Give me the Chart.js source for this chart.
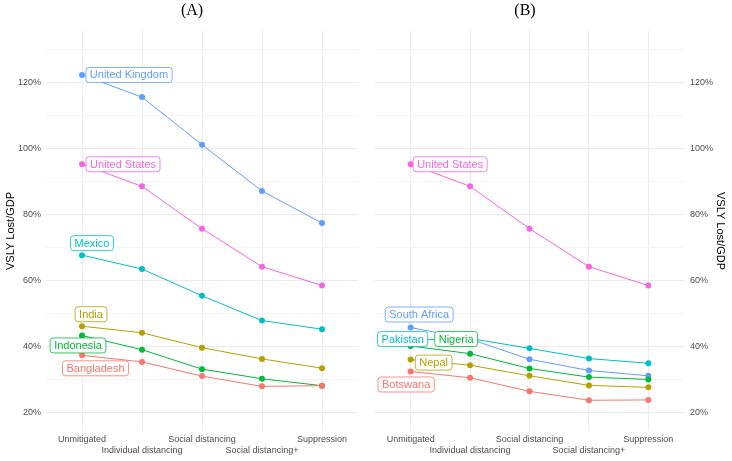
<!DOCTYPE html>
<html>
<head>
<meta charset="utf-8">
<script src="https://cdn.jsdelivr.net/npm/chart.js@4/dist/chart.umd.min.js"></script>
<style>
    html, body { margin: 0; padding: 0; background: #fff; }
    #wrap { position: relative; width: 732px; height: 461px; }
    .panel { position: absolute; top: 0; height: 461px; }
    #panelA { left: 0; width: 362px; }
    #panelB { left: 362px; width: 370px; }
</style>
</head>
<body>
<div id="wrap">
    <div class="panel" id="panelA"><canvas id="chartA" width="362" height="461"></canvas></div>
    <div class="panel" id="panelB"><canvas id="chartB" width="370" height="461"></canvas></div>
</div>
<script>
// scenarios on the x axis
const scenarios = ['Unmitigated', 'Individual distancing', 'Social distancing', 'Social distancing+', 'Suppression'];
// y ticks (major every 20, minor gridlines in between)
const yTicks = [20, 30, 40, 50, 60, 70, 80, 90, 100, 110, 120, 130];

// (A) VSLY lost / GDP, %
const unitedKingdom = [122.2, 115.5, 101.1, 87.1, 77.4];
const unitedStates  = [95.2, 88.5, 75.7, 64.2, 58.5];
const mexico        = [67.7, 63.5, 55.4, 47.9, 45.3];
const india         = [46.2, 44.2, 39.7, 36.3, 33.5];
const indonesia     = [43.4, 39.1, 33.2, 30.3, 28.2];
const bangladesh    = [37.4, 35.4, 31.1, 28.0, 28.2];

// (B) VSLY lost / GDP, %
const southAfrica = [45.8, 42.3, 36.2, 32.8, 31.2];
const pakistan    = [42.0, 42.5, 39.5, 36.4, 35.0];
const nigeria     = [40.2, 37.9, 33.4, 30.8, 30.1];
const nepal       = [36.1, 34.4, 31.2, 28.3, 27.7];
const botswana    = [32.5, 30.6, 26.5, 23.8, 23.9];

const RED = '#F8766D', GOLD = '#B79F00', GREEN = '#00BA38', CYAN = '#00BFC4', BLUE = '#619CFF', PINK = '#F564E3';
const SANS = '"Liberation Sans", Arial, Helvetica, sans-serif';

// label offsets (px) from the first point to the centre of the label box
const seriesA = [
    { name: 'Bangladesh', values: bangladesh, color: RED, dx: 13.5, dy: 13 },
    { name: 'India', values: india, color: GOLD, dx: 9, dy: -12 },
    { name: 'Indonesia', values: indonesia, color: GREEN, dx: -4, dy: 10 },
    { name: 'Mexico', values: mexico, color: CYAN, dx: 10, dy: -12 },
    { name: 'United Kingdom', values: unitedKingdom, color: BLUE, dx: 47, dy: 0 },
    { name: 'United States', values: unitedStates, color: PINK, dx: 41, dy: 0 },
];
const seriesB = [
    { name: 'Botswana', values: botswana, color: RED, dx: -4.5, dy: 13 },
    { name: 'Nepal', values: nepal, color: GOLD, dx: 23, dy: 3 },
    { name: 'Nigeria', values: nigeria, color: GREEN, dx: 45.5, dy: -7 },
    { name: 'Pakistan', values: pakistan, color: CYAN, dx: -8, dy: -1 },
    { name: 'South Africa', values: southAfrica, color: BLUE, dx: 8.5, dy: -13 },
    { name: 'United States', values: unitedStates, color: PINK, dx: 39.5, dy: 0 },
];

const decorPlugin = {
    id: 'decor',
    afterDatasetsDraw(chart, args, opts) {
        const ctx = chart.ctx;
        ctx.save();
        ctx.font = '11px ' + SANS;
        ctx.textAlign = 'center';
        ctx.textBaseline = 'middle';
        chart.data.datasets.forEach((ds, i) => {
            const pt = chart.getDatasetMeta(i).data[0];
            const w = ctx.measureText(ds.label).width + 8;
            const h = 15;
            const cx = pt.x + ds.labelDx, cy = pt.y + ds.labelDy;
            ctx.beginPath();
            ctx.roundRect(cx - w / 2, cy - h / 2, w, h, 3);
            ctx.fillStyle = '#fff';
            ctx.fill();
            ctx.strokeStyle = ds.borderColor;
            ctx.lineWidth = 0.8;
            ctx.stroke();
            ctx.fillStyle = ds.borderColor;
            ctx.fillText(ds.label, cx, cy + 0.5);
        });
        ctx.font = '16px "Liberation Serif", "DejaVu Serif", serif';
        ctx.fillStyle = '#000';
        ctx.fillText(opts.title, opts.titleX, 11);
        ctx.restore();
    }
};

function makeChart(id, series, side, title, titleX, padding) {
    return new Chart(document.getElementById(id), {
        type: 'line',
        data: {
            datasets: series.map(s => ({
                label: s.name,
                data: s.values.map((v, i) => ({ x: i, y: v })),
                borderColor: s.color,
                backgroundColor: s.color,
                borderWidth: 1,
                pointRadius: 3,
                pointHoverRadius: 3,
                pointBorderWidth: 0,
                labelDx: s.dx,
                labelDy: s.dy
            }))
        },
        options: {
            responsive: false,
            animation: false,
            layout: { padding: padding },
            plugins: {
                legend: { display: false },
                tooltip: { enabled: false },
                decor: { title: title, titleX: titleX }
            },
            scales: {
                x: {
                    type: 'linear',
                    min: -0.6,
                    max: 4.6,
                    afterBuildTicks: s => { s.ticks = scenarios.map((_, i) => ({ value: i })); },
                    afterFit: s => { s.height = 30; },
                    grid: { color: '#ebebeb', drawTicks: false },
                    border: { display: false },
                    ticks: {
                        autoSkip: false,
                        maxRotation: 0,
                        minRotation: 0,
                        padding: 3,
                        color: '#4d4d4d',
                        font: { size: 9, family: SANS, lineHeight: 1.25 },
                        callback: v => v % 2 === 0 ? [scenarios[v], ''] : ['', scenarios[v]]
                    }
                },
                y: {
                    type: 'linear',
                    position: side,
                    min: 14.5,
                    max: 135.5,
                    afterBuildTicks: s => { s.ticks = yTicks.map(v => ({ value: v })); },
                    afterFit: s => { s.width = side === 'left' ? 46 : 48; },
                    grid: {
                        color: c => c.tick && c.tick.value % 20 === 0 ? '#ebebeb' : '#f5f5f5',
                        drawTicks: false
                    },
                    border: { display: false },
                    ticks: {
                        padding: side === 'left' ? 5 : 6,
                        color: '#4d4d4d',
                        font: { size: 9, family: SANS },
                        callback: v => v % 20 === 0 ? v + '%' : ''
                    },
                    title: {
                        display: true,
                        text: 'VSLY Lost/GDP',
                        color: '#000',
                        font: { size: 11, family: SANS },
                        padding: { top: side === 'left' ? 4 : 5, bottom: 0 }
                    }
                }
            }
        },
        plugins: [decorPlugin]
    });
}

makeChart('chartA', seriesA, 'left', '(A)', 192, { top: 31, left: 0, right: 4, bottom: 0 });
makeChart('chartB', seriesB, 'right', '(B)', 163, { top: 31, left: 13, right: 0, bottom: 0 });
</script>
</body>
</html>
